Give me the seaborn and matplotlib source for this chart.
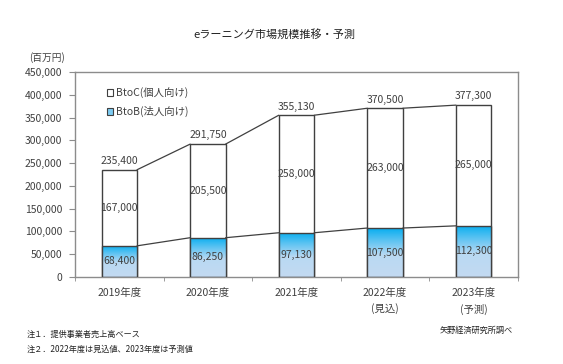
import numpy as np
import pandas as pd
import seaborn as sns
import matplotlib.pyplot as plt
from matplotlib.colors import LinearSegmentedColormap
from matplotlib.patches import Patch
from matplotlib.ticker import FuncFormatter, FixedLocator

# data (百万円)
years = ['2019年度', '2020年度', '2021年度', '2022年度\n(見込)', '2023年度\n(予測)']
btob = [68400, 86250, 97130, 107500, 112300]
btoc = [167000, 205500, 258000, 263000, 265000]
total = [235400, 291750, 355130, 370500, 377300]

df = pd.DataFrame({'year': years, 'btob': btob, 'btoc': btoc, 'total': total})

sns.set_style('white')
plt.rcParams['font.family'] = ['Noto Sans CJK JP', 'DejaVu Sans']

txt = '#404040'
edge = '#404040'
frame = '#8c8c8c'
bw = 0.4

fig = plt.figure(figsize=(5.63, 3.64), dpi=100)
ax = fig.add_axes([75 / 563, 1 - 277 / 364, 443 / 563, 205 / 364])

# total bars (BtoC on top) then BtoB bars over them
sns.barplot(data=df, x='year', y='total', color='white', edgecolor=edge,
            linewidth=1.0, width=bw, saturation=1, ax=ax, zorder=2)
n_before = len(ax.patches)
sns.barplot(data=df, x='year', y='btob', color='#bdd7ee', edgecolor=edge,
            linewidth=1.0, width=bw, saturation=1, ax=ax, zorder=3)
b_patches = ax.patches[n_before:]

# gradient fill on BtoB bars
cmap = LinearSegmentedColormap.from_list(
    'bl', [(0, '#c3daf1'), (0.45, '#b9d9f3'), (0.75, '#5cc3f2'), (1.0, '#08aef0')])
grad = np.linspace(0, 1, 100).reshape(-1, 1)
for p in b_patches:
    x0 = p.get_x()
    h = p.get_height()
    im = ax.imshow(grad, extent=[x0, x0 + p.get_width(), 0, h], origin='lower',
                   aspect='auto', cmap=cmap, zorder=2.5)
    im.set_clip_path(p)
    p.set_facecolor('none')

# connector lines
for i in range(len(years) - 1):
    ax.plot([i + bw / 2, i + 1 - bw / 2], [total[i], total[i + 1]], color=edge, lw=0.9, zorder=4)
    ax.plot([i + bw / 2, i + 1 - bw / 2], [btob[i], btob[i + 1]], color=edge, lw=0.9, zorder=4)

# value labels
for i in range(len(years)):
    ax.text(i, total[i] + 8000, f'{total[i]:,}', ha='center', va='bottom', fontsize=7.5, color=txt)
    ax.text(i, btob[i] + btoc[i] / 2, f'{btoc[i]:,}', ha='center', va='center', fontsize=7.5, color=txt, zorder=5)
    ax.text(i, btob[i] / 2, f'{btob[i]:,}', ha='center', va='center', fontsize=7.5, color=txt, zorder=5)

ax.set_xlim(-0.5, len(years) - 0.5)
ax.set_ylim(0, 450000)
ax.set_yticks(range(0, 450001, 50000))
ax.yaxis.set_major_formatter(FuncFormatter(lambda v, _: f'{int(v):,}'))
ax.set_xlabel('')
ax.set_ylabel('')
ax.xaxis.set_minor_locator(FixedLocator(np.arange(-0.5, len(years), 1.0)))
ax.tick_params(axis='x', which='major', length=0, pad=8, labelsize=7.5, labelcolor=txt)
ax.tick_params(axis='x', which='minor', length=3, color=frame, direction='out', bottom=True)
ax.tick_params(axis='y', length=4, color=frame, pad=5, labelsize=7.5, labelcolor=txt, left=True)
for lbl in ax.get_xticklabels():
    lbl.set_linespacing(1.6)
for s in ax.spines.values():
    s.set_color(frame)
    s.set_linewidth(1.0)

handles = [Patch(facecolor='white', edgecolor=edge, lw=0.8),
           Patch(facecolor='#7ccbf2', edgecolor=edge, lw=0.8)]
ax.legend(handles, ['BtoC(個人向け)', 'BtoB(法人向け)'], loc='upper left',
          bbox_to_anchor=(0.05, 0.97), frameon=False, fontsize=7.5,
          handlelength=0.6, handleheight=0.6, handletextpad=0.35, labelspacing=0.75,
          labelcolor=txt)

fig.text(274 / 563, 1 - 34 / 364, 'eラーニング市場規模推移・予測', ha='center', va='center', fontsize=8, color='#222222')
fig.text(29 / 563, 1 - 58 / 364, '(百万円)', ha='left', va='center', fontsize=7, color=txt)
fig.text(27 / 563, 1 - 334 / 364, '注１．提供事業者売上高ベース', ha='left', va='center', fontsize=5.9, color='#222222')
fig.text(27 / 563, 1 - 349 / 364, '注２．2022年度は見込値、2023年度は予測値', ha='left', va='center', fontsize=5.9, color='#222222')
fig.text(513 / 563, 1 - 330 / 364, '矢野経済研究所調べ', ha='right', va='center', fontsize=5.9, color='#222222')

fig.savefig('out.png', dpi=100)
